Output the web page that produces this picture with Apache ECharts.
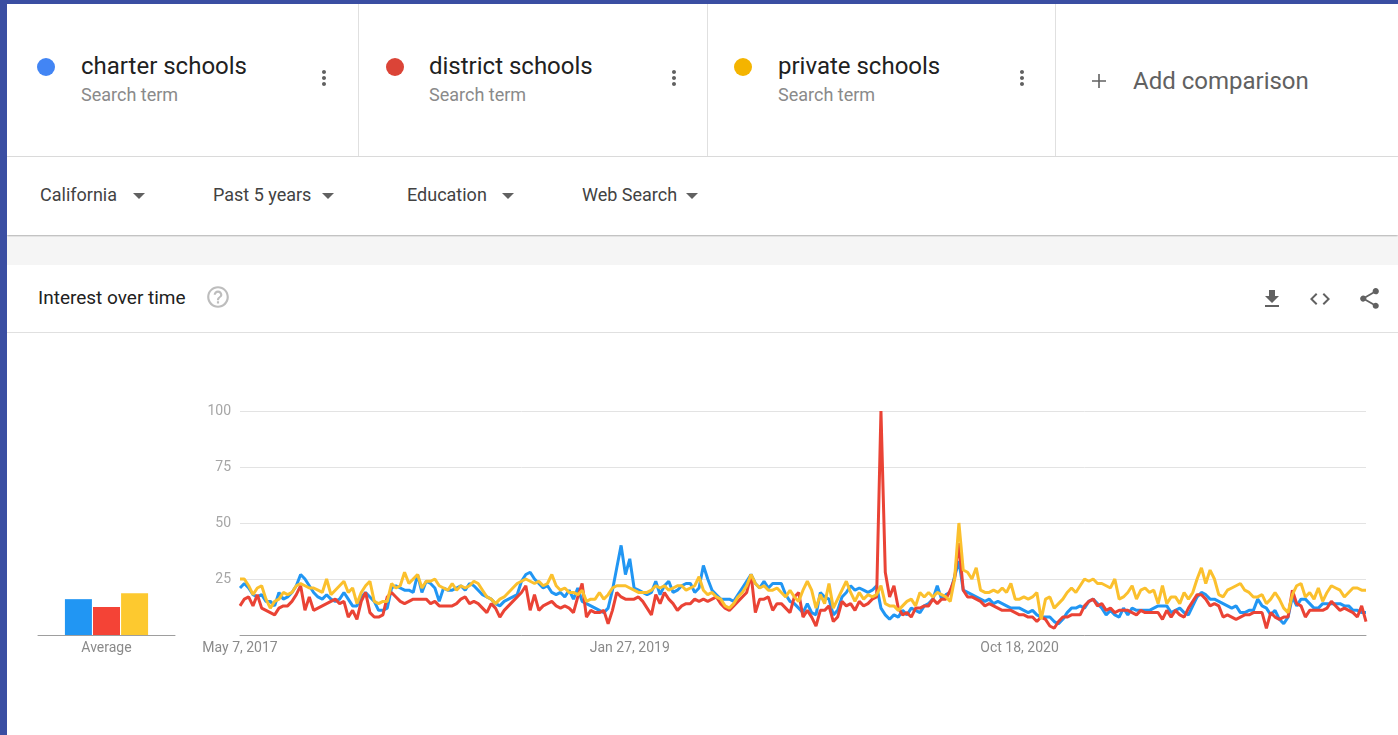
<!DOCTYPE html>
<html>
<head>
<meta charset="utf-8">
<script src="https://cdn.jsdelivr.net/npm/echarts/dist/echarts.min.js"></script>
<style>
html,body{margin:0;padding:0;width:1398px;height:735px;overflow:hidden;background:#fff;font-family:Roboto,"Noto Sans",Arial,sans-serif;}
.abs{position:absolute;}
.frameL{left:0;top:0;width:7px;height:735px;background:#3a4ea2;z-index:5;}
.frameT{left:0;top:0;width:1398px;height:4px;background:#3a4ea2;z-index:5;}
.card{top:4px;height:152px;background:#fff;border-right:1px solid #e0e0e0;box-sizing:border-box;}
.hline{left:7px;width:1391px;height:1px;background:#e0e0e0;}
.dot{width:18px;height:18px;border-radius:50%;}
.term{font-size:24px;line-height:24px;color:#212121;white-space:nowrap;}
.sub{font-size:18px;line-height:18px;color:#8a8a8a;white-space:nowrap;}
.filt{font-size:18px;line-height:18px;color:#424242;white-space:nowrap;}
.tri{width:0;height:0;border-left:6px solid transparent;border-right:6px solid transparent;border-top:6px solid #616161;}
svg{position:absolute;}
</style>
</head>
<body>
<div class="abs frameL"></div>
<div class="abs frameT"></div>

<!-- header cards -->
<div class="abs card" style="left:7px;width:352px;"></div>
<div class="abs card" style="left:359px;width:349px;"></div>
<div class="abs card" style="left:708px;width:348px;"></div>
<div class="abs card" style="left:1056px;width:342px;border-right:none;"></div>
<div class="abs hline" style="top:156px;"></div>

<div class="abs dot" style="left:37px;top:58px;background:#4285f4;"></div>
<div class="abs term" style="left:81px;top:54px;" id="t0"></div>
<div class="abs sub" style="left:81px;top:85.5px;">Search term</div>
<svg style="left:312px;top:66px;" width="24" height="24" viewBox="0 0 24 24"><path fill="#616161" d="M12 8c1.1 0 2-.9 2-2s-.9-2-2-2-2 .9-2 2 .9 2 2 2zm0 2c-1.1 0-2 .9-2 2s.9 2 2 2 2-.9 2-2-.9-2-2-2zm0 6c-1.1 0-2 .9-2 2s.9 2 2 2 2-.9 2-2-.9-2-2-2z"/></svg>

<div class="abs dot" style="left:386px;top:58px;background:#db4437;"></div>
<div class="abs term" style="left:429px;top:54px;" id="t1"></div>
<div class="abs sub" style="left:429px;top:85.5px;">Search term</div>
<svg style="left:662px;top:66px;" width="24" height="24" viewBox="0 0 24 24"><path fill="#616161" d="M12 8c1.1 0 2-.9 2-2s-.9-2-2-2-2 .9-2 2 .9 2 2 2zm0 2c-1.1 0-2 .9-2 2s.9 2 2 2 2-.9 2-2-.9-2-2-2zm0 6c-1.1 0-2 .9-2 2s.9 2 2 2 2-.9 2-2-.9-2-2-2z"/></svg>

<div class="abs dot" style="left:734px;top:58px;background:#f4b400;"></div>
<div class="abs term" style="left:778px;top:54px;" id="t2"></div>
<div class="abs sub" style="left:778px;top:85.5px;">Search term</div>
<svg style="left:1010px;top:66px;" width="24" height="24" viewBox="0 0 24 24"><path fill="#616161" d="M12 8c1.1 0 2-.9 2-2s-.9-2-2-2-2 .9-2 2 .9 2 2 2zm0 2c-1.1 0-2 .9-2 2s.9 2 2 2 2-.9 2-2-.9-2-2-2zm0 6c-1.1 0-2 .9-2 2s.9 2 2 2 2-.9 2-2-.9-2-2-2z"/></svg>

<svg style="left:1087px;top:69px;" width="24" height="24" viewBox="0 0 24 24"><path fill="#616161" d="M19 12.8h-6.2V19h-1.6v-6.2H5v-1.6h6.2V5h1.6v6.2H19z"/></svg>
<div class="abs" style="left:1133px;top:69px;font-size:24px;line-height:24px;color:#616161;white-space:nowrap;">Add comparison</div>

<!-- filter row -->
<div class="abs" style="left:7px;top:157px;width:1391px;height:78px;background:#fff;box-shadow:0 1px 2px rgba(0,0,0,0.35);"></div>
<div class="abs filt" style="left:40px;top:185.5px;">California</div>
<div class="abs tri" style="left:133px;top:193px;"></div>
<div class="abs filt" style="left:213px;top:185.5px;">Past 5 years</div>
<div class="abs tri" style="left:322px;top:193px;"></div>
<div class="abs filt" style="left:407px;top:185.5px;">Education</div>
<div class="abs tri" style="left:502px;top:193px;"></div>
<div class="abs filt" style="left:582px;top:185.5px;">Web Search</div>
<div class="abs tri" style="left:686px;top:193px;"></div>

<!-- gray band -->
<div class="abs" style="left:7px;top:237px;width:1391px;height:28px;background:#f5f5f5;"></div>

<!-- interest card header -->
<div class="abs" style="left:38px;top:287.5px;font-size:19px;line-height:19px;color:#212121;white-space:nowrap;">Interest over time</div>
<svg style="left:205px;top:284px;" width="26" height="26" viewBox="0 0 24 24"><path fill="#bdbdbd" d="M11 18h2v-2h-2v2zm1-16C6.48 2 2 6.48 2 12s4.48 10 10 10 10-4.48 10-10S17.52 2 12 2zm0 18c-4.41 0-8-3.590-8-8s3.59-8 8-8 8 3.59 8 8-3.59 8-8 8zm0-14c-2.21 0-4 1.79-4 4h2c0-1.1.9-2 2-2s2 .9 2 2c0 2-3 1.75-3 5h2c0-2.25 3-2.5 3-5 0-2.21-1.79-4-4-4z"/></svg>
<svg style="left:1260px;top:287px;" width="24" height="24" viewBox="0 0 24 24"><path fill="#616161" d="M19 9h-4V3H9v6H5l7 7 7-7zM5 18v2h14v-2H5z"/></svg>
<svg style="left:1308px;top:287px;" width="24" height="24" viewBox="0 0 24 24"><path fill="#616161" d="M9.4 16.6L4.8 12l4.6-4.6L8 6l-6 6 6 6 1.4-1.4zm5.2 0l4.6-4.6-4.6-4.6L16 6l6 6-6 6-1.4-1.4z"/></svg>
<svg style="left:1357px;top:286px;" width="25" height="25" viewBox="0 0 24 24"><path fill="#616161" d="M18 16.08c-.76 0-1.44.3-1.96.77L8.91 12.7c.05-.23.09-.46.09-.7s-.04-.47-.09-.7l7.05-4.11c.54.5 1.25.81 2.04.81 1.66 0 3-1.34 3-3s-1.34-3-3-3-3 1.34-3 3c0 .24.04.47.09.7L8.04 9.81C7.5 9.31 6.79 9 6 9c-1.66 0-3 1.34-3 3s1.34 3 3 3c.79 0 1.5-.31 2.04-.81l7.12 4.16c-.05.21-.08.43-.08.65 0 1.61 1.31 2.92 2.92 2.92 1.61 0 2.92-1.31 2.92-2.92s-1.31-2.92-2.92-2.92z"/></svg>
<div class="abs hline" style="top:332px;"></div>

<div id="chart" class="abs" style="left:7px;top:333px;width:1391px;height:402px;"></div>

<script>
// ---- data ----
const terms = ["charter schools", "district schools", "private schools"];
const startDate = "2017-05-07";   // first weekly point
const tickLabels = ["May 7, 2017", "Jan 27, 2019", "Oct 18, 2020"];
const tickEvery = 90;             // weeks between shown date labels
const yTicks = [0, 25, 50, 75, 100];
const averageLabel = "Average";
const averages = [16, 12.5, 18.6];

const charter = [
21,23,21,18,17,18,15,15,13,19,
16,17,19,22,27,25,22,19,17,16,
18,16,15,16,19,16,13,13,17,19,
17,15,11,11,12,21,22,21,20,20,
19,27,19,24,23,21,15,21,20,20,
21,22,20,23,22,20,18,17,16,14,
13,15,16,17,18,24,27,28,25,23,
21,22,19,18,19,17,20,16,21,15,
14,13,12,11,10,12,20,30,40,27,
34,21,20,19,18,19,24,18,22,24,
19,20,22,23,23,19,21,31,25,20,
18,16,16,16,15,18,21,24,27,23,
21,24,21,23,23,23,18,15,14,12,
10,14,10,9,19,17,16,9,11,17,
19,22,20,21,20,19,20,22,12,9,
7,9,8,11,9,12,11,10,13,14,
16,22,16,18,19,26,33,20,19,18,
17,16,15,16,14,15,14,13,12,12,
12,11,10,11,9,8,8,8,6,5,
7,10,12,12,13,12,15,16,14,12,
9,11,9,8,12,9,12,11,11,11,
11,12,13,13,13,10,11,12,10,9,
13,17,19,18,16,16,15,14,13,12,
13,10,10,11,11,16,13,12,9,11,
7,5,8,17,13,16,16,14,12,12,
14,14,14,14,14,13,13,11,11,10,10];

const district = [
13,16,17,13,18,12,11,10,9,12,
13,13,15,18,22,11,17,11,12,13,
14,15,16,14,15,8,11,7,15,19,
10,8,8,9,17,19,17,15,14,15,
16,16,16,16,14,15,13,13,13,13,
14,16,17,14,15,14,12,10,14,12,
8,11,13,15,17,19,22,11,18,11,
13,14,15,13,12,13,12,10,17,23,
8,11,10,10,11,5,11,19,17,16,
16,16,17,15,12,9,18,14,19,16,
14,11,13,14,14,16,15,16,15,16,
17,14,12,11,13,15,17,19,27,10,
16,16,17,11,14,14,12,10,17,19,
8,11,8,4,11,11,13,6,8,15,
13,14,11,15,13,14,16,17,100,28,
17,22,12,9,10,8,12,12,13,13,
16,14,16,16,20,25,41,20,17,17,
16,15,13,14,13,12,11,11,11,10,
9,9,8,8,6,8,7,4,3,6,
8,8,9,9,9,13,15,16,13,14,
11,12,10,11,11,11,10,9,11,10,
10,10,10,7,11,8,11,9,8,12,
15,18,18,16,13,14,13,8,9,8,
7,8,9,9,10,10,10,3,10,8,
7,8,8,20,14,13,8,11,11,11,
11,12,15,13,11,12,11,10,8,13,6];

const privateSchools = [
25,25,22,18,21,22,16,12,15,16,
19,18,19,22,23,22,21,21,20,19,
25,18,20,22,24,19,21,14,19,22,
24,15,14,15,15,23,21,22,28,23,
25,27,21,24,24,25,22,21,20,23,
20,22,21,22,24,23,20,17,16,14,
16,17,19,21,23,24,25,24,23,24,
22,23,27,22,20,21,19,19,18,20,
15,16,16,19,16,18,21,22,22,22,
21,20,19,19,19,20,22,21,22,20,
21,22,22,20,21,22,26,20,18,19,
17,16,13,12,14,17,19,22,27,23,
21,22,20,20,21,19,17,20,17,15,
20,24,20,12,18,14,23,12,16,20,
24,19,15,19,16,18,17,18,22,14,
13,13,11,13,15,16,13,19,17,19,
17,19,18,17,15,25,50,29,28,25,
30,20,19,19,20,19,21,19,23,16,
16,17,16,17,19,7,16,17,12,14,
16,19,21,19,22,25,24,25,23,23,
22,21,25,16,17,19,22,16,20,21,
19,20,14,22,14,17,17,14,19,16,
19,25,30,23,29,25,18,17,20,21,
22,23,20,19,17,17,18,14,16,19,
16,12,10,18,22,23,17,19,16,21,
15,19,22,21,20,17,19,21,21,20,20];

// ---- build ----
document.getElementById('t0').textContent = terms[0];
document.getElementById('t1').textContent = terms[1];
document.getElementById('t2').textContent = terms[2];

const lineColors = ['#2196f3', '#ea4335', '#fbc02d'];
const barColors = ['#2196f3', '#f44336', '#fdc92f'];

const weeks = [];
const d0 = new Date(startDate + 'T00:00:00Z');
for (let i = 0; i < charter.length; i++) {
  const d = new Date(d0.getTime() + i * 7 * 86400000);
  weeks.push(d.toISOString().slice(0, 10));
}

const chart = echarts.init(document.getElementById('chart'), null, {renderer: 'canvas'});
const labelFont = {fontFamily: 'Roboto, Arial, sans-serif', fontSize: 14};
const seriesData = [charter, district, privateSchools];

chart.setOption({
  animation: false,
  grid: [
    {left: 233, right: 32, top: 78, bottom: 100, outerBoundsMode: 'none', containLabel: false},
    {left: 31, width: 137, top: 78, bottom: 100, outerBoundsMode: 'none', containLabel: false}
  ],
  xAxis: [
    {
      type: 'category', gridIndex: 0, data: weeks, boundaryGap: false,
      axisLine: {lineStyle: {color: '#9e9e9e', width: 1}},
      axisTick: {show: false},
      axisLabel: Object.assign({
        color: '#8a8a8a', margin: 6,
        interval: (idx) => idx % tickEvery === 0,
        hideOverlap: false,
        formatter: (v, idx) => (idx % tickEvery === 0 ? (tickLabels[idx / tickEvery] || '') : '')
      }, labelFont),
      splitLine: {show: false}
    },
    {
      type: 'category', gridIndex: 1, data: [averageLabel],
      axisLine: {lineStyle: {color: '#9e9e9e', width: 1}},
      axisTick: {show: false},
      axisLabel: Object.assign({color: '#8a8a8a', margin: 6}, labelFont)
    }
  ],
  yAxis: [
    {
      type: 'value', gridIndex: 0, min: yTicks[0], max: yTicks[yTicks.length - 1], interval: 25,
      axisLine: {show: false}, axisTick: {show: false},
      axisLabel: Object.assign({color: '#a6a6a6', margin: 9,
        formatter: v => (v === 0 ? '' : String(v))}, labelFont),
      splitLine: {lineStyle: {color: '#e3e3e3', width: 1}}
    },
    {
      type: 'value', gridIndex: 1, min: yTicks[0], max: yTicks[yTicks.length - 1],
      show: false, splitLine: {show: false}
    }
  ],
  series: [
    ...seriesData.map((arr, i) => ({
      type: 'line', name: terms[i], xAxisIndex: 0, yAxisIndex: 0,
      data: arr, symbol: 'none', smooth: false,
      lineStyle: {color: lineColors[i], width: 3},
      z: 2 + i
    })),
    ...averages.map((v, i) => ({
      type: 'bar', name: terms[i] + ' avg', xAxisIndex: 1, yAxisIndex: 1,
      data: [v], barWidth: 27, barGap: '4%',
      itemStyle: {color: barColors[i]}
    }))
  ]
});
</script>
</body>
</html>
